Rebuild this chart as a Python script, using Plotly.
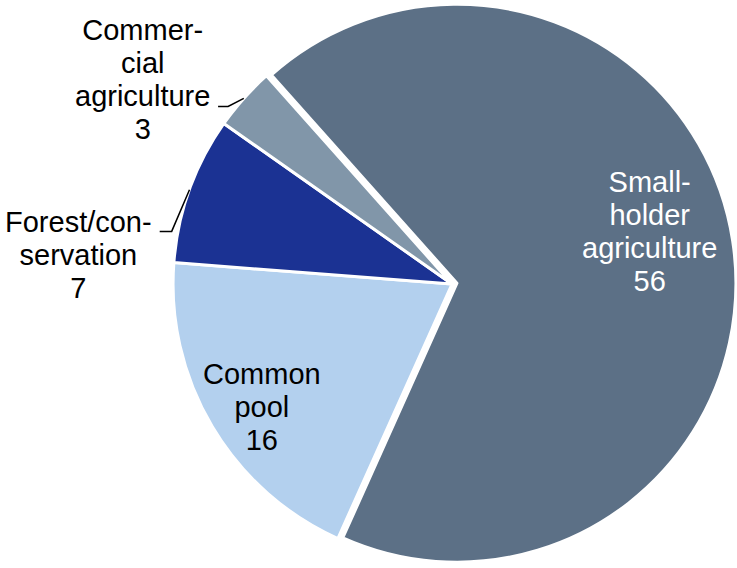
import math
import plotly.graph_objects as go

# Land-use shares (slices drawn clockwise starting with smallholder agriculture)
categories = ["Small-holder agriculture", "Common pool", "Forest/conservation", "Commercial agriculture"]
label_lines = [["Small-", "holder", "agriculture"], ["Common", "pool"],
               ["Forest/con-", "servation"], ["Commer-", "cial", "agriculture"]]
values = [56, 16, 7, 3]

colors = ["#5C7086", "#B3D0EE", "#1B3293", "#8196A9"]
text_colors = ["white", "black", "black", "black"]
label_inside = [True, True, False, False]
pulls = [0.018, 0, 0, 0]

W, H = 737, 568
ROTATION = -41.7
FONT = "Liberation Sans, Arial, sans-serif"
GLYPH_SIZE = 29     # size of the letters
LINE_SIZE = 25.4    # base size, sets the line spacing (1.3 em)

# pie domain (paper units) and the resulting geometry in pixels
dom_x = [0.228, 0.9986]
dom_y = [0.0, 1.0]
cx = W * (dom_x[0] + dom_x[1]) / 2
cy = H * (1 - (dom_y[0] + dom_y[1]) / 2)
radius = min(W * (dom_x[1] - dom_x[0]), H * (dom_y[1] - dom_y[0])) / 2 / (1 + max(pulls))

fig = go.Figure(go.Pie(
    labels=categories,
    values=values,
    textinfo="none",
    marker=dict(colors=colors, line=dict(color="white", width=3)),
    pull=pulls,
    sort=False,
    direction="clockwise",
    rotation=ROTATION,
    domain=dict(x=dom_x, y=dom_y),
    showlegend=False,
    hoverinfo="label+value",
))

# label placement: inside labels sit along the mid-angle, outside labels hang
# off an elbow leader line that starts on the rim at the mid-angle
label_style = {
    "Small-holder agriculture": dict(frac=0.70, nudge=(0, -22)),
    "Common pool": dict(frac=0.80, nudge=(2, 9)),
    "Commercial agriculture": dict(knee=(-15.7, 8), tail=10, gap=6, dy=-26.6),
    "Forest/conservation": dict(knee=(-17.8, 41.7), tail=12, gap=6, dy=23.2),
}


def to_paper(px, py):
    return px / W, 1 - py / H


def label_html(lines, value):
    rows = lines + [str(value)]
    return "<br>".join(f"<span style='font-size:{GLYPH_SIZE}px'>{r}</span>" for r in rows)


total = sum(values)
cum = 0
shapes, annotations = [], []
for name, lines, v, inside, pull, tcol in zip(categories, label_lines, values,
                                              label_inside, pulls, text_colors):
    mid = math.radians(ROTATION + 360 * (cum + v / 2) / total)
    cum += v
    st = label_style[name]
    sx, sy = math.sin(mid), -math.cos(mid)
    text = label_html(lines, v)
    font = dict(family=FONT, size=LINE_SIZE, color=tcol)
    if inside:
        ox, oy = cx + pull * radius * sx, cy + pull * radius * sy
        lx = ox + st["frac"] * radius * sx + st["nudge"][0]
        ly = oy + st["frac"] * radius * sy + st["nudge"][1]
        ax, ay = to_paper(lx, ly)
        annotations.append(dict(text=text, x=ax, y=ay, xref="paper", yref="paper",
                                xanchor="center", yanchor="middle", align="center",
                                showarrow=False, font=font))
        continue
    px, py = cx + radius * sx, cy + radius * sy
    kx, ky = px + st["knee"][0], py + st["knee"][1]
    ex, ey = kx - st["tail"], ky
    pts = [to_paper(*p) for p in [(px, py), (kx, ky), (ex, ey)]]
    path = "M {} {} L {} {} L {} {}".format(*[c for p in pts for c in p])
    shapes.append(dict(type="path", path=path, xref="paper", yref="paper",
                       line=dict(color="black", width=1.5)))
    ax, ay = to_paper(ex - st["gap"], ey + st["dy"])
    annotations.append(dict(text=text, x=ax, y=ay, xref="paper", yref="paper",
                            xanchor="right", yanchor="middle", align="center",
                            showarrow=False, font=font))

fig.update_layout(
    width=W, height=H,
    margin=dict(l=0, r=0, t=0, b=0),
    paper_bgcolor="white",
    plot_bgcolor="white",
    shapes=shapes,
    annotations=annotations,
)

fig.write_html("out.html")
